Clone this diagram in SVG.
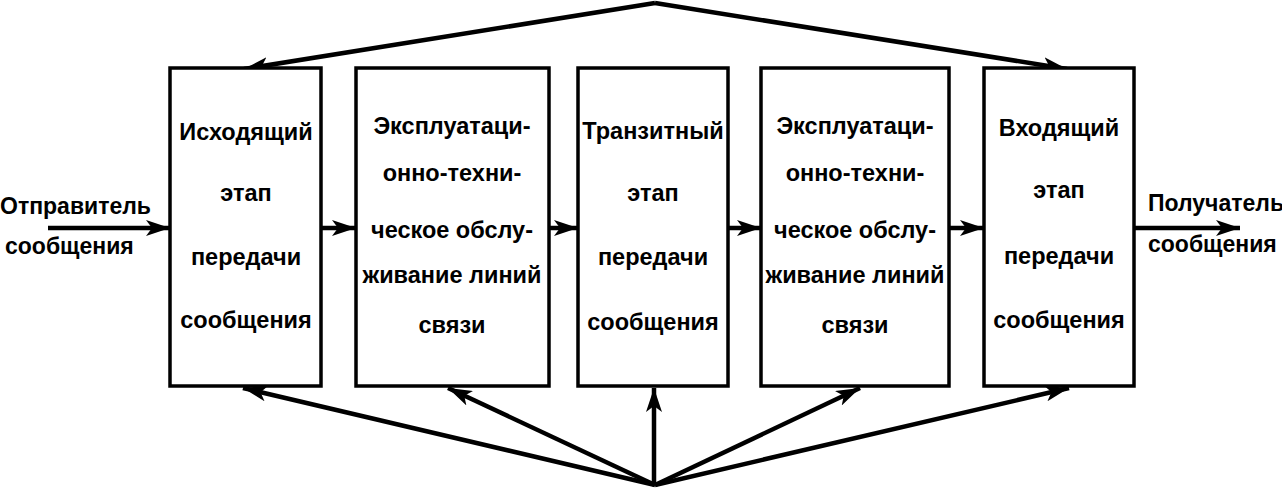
<svg xmlns="http://www.w3.org/2000/svg" width="1282" height="488" viewBox="0 0 1282 488">
<style>
.box{fill:#fff;stroke:#000;stroke-width:3.5}
.t{font-family:"Liberation Sans",Arial,sans-serif;font-weight:bold;font-size:23.5px;fill:#000;text-anchor:middle}
.l{font-family:"Liberation Sans",Arial,sans-serif;font-weight:bold;font-size:23px;fill:#000;text-anchor:start}
.c{stroke:#000;stroke-width:4.5;fill:none;marker-end:url(#ah)}
</style>
<defs>
<marker id="ah" markerUnits="userSpaceOnUse" markerWidth="26" markerHeight="16" refX="24" refY="8" orient="auto">
<path d="M0,0 L24,8 L0,16 L6,8 z" fill="#000"/>
</marker>
</defs>
<rect width="1282" height="488" fill="#fff"/>
<g id="connectors">
<polyline class="c" points="655,3 244,69"/>
<polyline class="c" points="655,3 1067,69"/>
<line class="c" x1="655" y1="485" x2="243" y2="388"/>
<line class="c" x1="655" y1="485" x2="448" y2="388"/>
<line class="c" x1="654" y1="485" x2="654" y2="388"/>
<line class="c" x1="655" y1="485" x2="860" y2="388"/>
<line class="c" x1="655" y1="485" x2="1069" y2="388"/>
<line class="c" x1="48" y1="228" x2="170" y2="228"/>
<line class="c" x1="321" y1="228" x2="356" y2="228"/>
<line class="c" x1="549" y1="228" x2="578" y2="228"/>
<line class="c" x1="728" y1="228" x2="761" y2="228"/>
<line class="c" x1="949" y1="228" x2="984" y2="228"/>
<line class="c" x1="1134" y1="228" x2="1240" y2="228"/>
</g>
<g id="sender">
<text class="l" x="0" y="214">Отправитель</text>
<text class="l" x="5" y="254">сообщения</text>
</g>
<g id="receiver">
<text class="l" x="1148" y="211">Получатель</text>
<text class="l" x="1148" y="252">сообщения</text>
</g>
<g id="node1">
<rect class="box" x="170" y="68" width="151" height="318"/>
<text class="t" x="246" y="140">Исходящий</text>
<text class="t" x="246" y="201">этап</text>
<text class="t" x="246" y="265">передачи</text>
<text class="t" x="246" y="328">сообщения</text>
</g>
<g id="node2">
<rect class="box" x="356" y="68" width="193" height="318"/>
<text class="t" x="452" y="134">Эксплуатаци-</text>
<text class="t" x="452" y="181">онно-техни-</text>
<text class="t" x="452" y="238">ческое обслу-</text>
<text class="t" x="452" y="283">живание линий</text>
<text class="t" x="452" y="333">связи</text>
</g>
<g id="node3">
<rect class="box" x="578" y="68" width="150" height="318"/>
<text class="t" x="653" y="139">Транзитный</text>
<text class="t" x="653" y="201">этап</text>
<text class="t" x="653" y="265">передачи</text>
<text class="t" x="653" y="330">сообщения</text>
</g>
<g id="node4">
<rect class="box" x="761" y="68" width="188" height="318"/>
<text class="t" x="855" y="134">Эксплуатаци-</text>
<text class="t" x="855" y="181">онно-техни-</text>
<text class="t" x="855" y="238">ческое обслу-</text>
<text class="t" x="855" y="283">живание линий</text>
<text class="t" x="855" y="333">связи</text>
</g>
<g id="node5">
<rect class="box" x="984" y="68" width="150" height="318"/>
<text class="t" x="1059" y="136">Входящий</text>
<text class="t" x="1059" y="198">этап</text>
<text class="t" x="1059" y="264">передачи</text>
<text class="t" x="1059" y="328">сообщения</text>
</g>
</svg>
